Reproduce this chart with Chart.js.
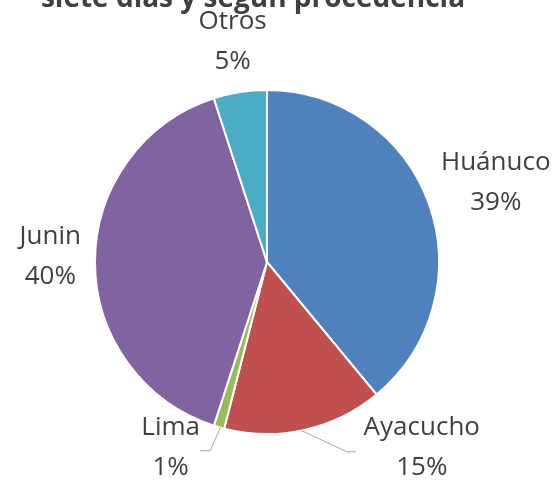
<!DOCTYPE html>
<html>
<head>
<meta charset="utf-8">
<script src="https://cdn.jsdelivr.net/npm/chart.js@4/dist/chart.umd.min.js"></script>
<style>
  html, body { margin: 0; padding: 0; background: #fff; }
  #wrap { width: 559px; height: 490px; position: relative; }
</style>
</head>
<body>
<div id="wrap"><canvas id="procChart"></canvas></div>
<script>
// Data
const labels = ["Huánuco", "Ayacucho", "Lima", "Junin", "Otros"];
const values = [39, 15, 1, 40, 5];
const colors = ["#4F81BD", "#C0504D", "#9BBB59", "#8064A2", "#4BACC6"];
const titleText = "siete días y según procedencia";

// where each label sits, relative to pie centre in radius units
const labelSpots = [[1.33, -0.46], [0.9, 1.08], [-0.56, 1.08], [-1.26, -0.03], [-0.2, -1.28]];

const ctx = document.getElementById("procChart").getContext("2d");
const FONT = '"Open Sans", sans-serif';

// Title, cut off at the top as in the picture
const titlePlugin = {
  id: "cutTitle",
  afterDraw(chart) {
    const c = chart.ctx;
    c.save();
    c.fillStyle = "#404040";
    c.font = "bold 28px " + FONT;
    c.textAlign = "center";
    c.textBaseline = "alphabetic";
    c.fillText(titleText, 253, 7);
    c.restore();
  },
};

// Outside labels with leader lines for the two small bottom ones
const labelPlugin = {
  id: "outsideLabels",
  afterDatasetsDraw(chart) {
    const meta = chart.getDatasetMeta(0);
    const arc0 = meta.data[0];
    const cx = arc0.x, cy = arc0.y, R = arc0.outerRadius;
    const total = values.reduce((a, b) => a + b, 0);
    const c = chart.ctx;
    c.save();
    meta.data.forEach((arc, i) => {
      const lx = cx + labelSpots[i][0] * R;
      const ly = cy + labelSpots[i][1] * R;
      c.strokeStyle = "#A6A6A6";
      c.lineWidth = 1;
      if (i === 1) {
        c.beginPath();
        c.moveTo(cx + 0.2 * R, cy + 0.98 * R);
        c.lineTo(lx - 75, ly + 4);
        c.lineTo(lx - 66, ly + 4);
        c.stroke();
      } else if (i === 2) {
        c.beginPath();
        c.moveTo(cx - 0.27 * R, cy + 0.96 * R);
        c.lineTo(cx - 0.33 * R, ly + 3);
        c.lineTo(cx - 0.39 * R, ly + 3);
        c.stroke();
      }
      c.fillStyle = "#404040";
      c.font = "26px " + FONT;
      c.textAlign = "center";
      c.textBaseline = "middle";
      c.fillText(labels[i], lx, ly - 20);
      c.fillText(Math.round(values[i] / total * 100) + "%", lx, ly + 20);
    });
    c.restore();
  },
};

const chart = new Chart(ctx, {
  type: "pie",
  data: {
    labels: labels,
    datasets: [{
      data: values,
      backgroundColor: colors,
      borderColor: "#FFFFFF",
      borderWidth: 2,
    }],
  },
  options: {
    responsive: true,
    maintainAspectRatio: false,
    animation: false,
    layout: { padding: { left: 94, right: 119, top: 89, bottom: 55 } },
    plugins: {
      legend: { display: false },
      tooltip: { enabled: false },
      title: { display: false },
    },
  },
  plugins: [titlePlugin, labelPlugin],
});
</script>
</body>
</html>
